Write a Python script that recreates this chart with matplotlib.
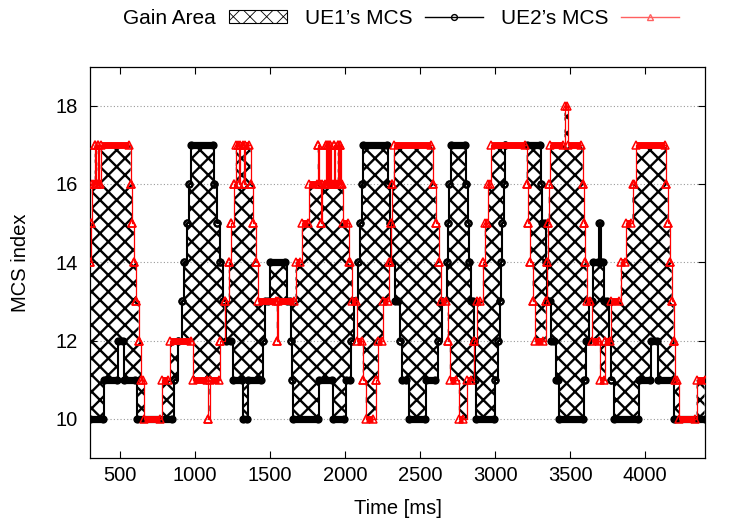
import numpy as np
import matplotlib
matplotlib.use("Agg")
import matplotlib.pyplot as plt
from matplotlib.patches import Patch
from matplotlib.lines import Line2D

# ---------------- data (runs of consecutive samples at one MCS level) ----------------
# UE1's MCS
ue1_start = [300, 395, 485, 527, 612, 860, 886, 913, 930, 946, 962, 975, 1128, 1146, 1166, 1186,
             1208, 1250, 1320, 1352, 1452, 1466, 1498, 1610, 1641, 1648, 1656, 1828, 1920, 2004,
             2042, 2062, 2085, 2098, 2112, 2122, 2287, 2296, 2305, 2335, 2365, 2382, 2425, 2540,
             2618, 2648, 2676, 2686, 2695, 2704, 2805, 2816, 2826, 2836, 2860, 2867, 2875, 3000,
             3020, 3030, 3040, 3048, 3058, 3066, 3215, 3304, 3310, 3337, 3344, 3375, 3402, 3428,
             3592, 3605, 3625, 3652, 3692, 3705, 3725, 3758, 3775, 3790, 3960, 4038, 4088, 4192]
ue1_end = [385, 478, 520, 600, 850, 860, 886, 913, 930, 946, 962, 1120, 1128, 1146, 1166, 1186,
           1240, 1312, 1345, 1442, 1452, 1488, 1602, 1632, 1641, 1648, 1818, 1912, 1996, 2034,
           2042, 2062, 2085, 2098, 2112, 2280, 2287, 2296, 2305, 2352, 2365, 2405, 2532, 2602,
           2618, 2648, 2676, 2686, 2695, 2798, 2805, 2816, 2826, 2852, 2860, 2867, 2990, 3000,
           3020, 3030, 3040, 3048, 3058, 3066, 3297, 3304, 3330, 3337, 3368, 3395, 3420, 3585,
           3598, 3618, 3645, 3685, 3698, 3718, 3745, 3758, 3775, 3950, 4030, 4080, 4183, 4395]
ue1_mcs = [10, 11, 12, 11, 10, 11, 12, 13, 14, 15, 16, 17, 16, 15, 14, 13,
           12, 11, 10, 11, 12, 13, 14, 13, 12, 11, 10, 11, 10, 11,
           12, 13, 14, 15, 16, 17, 16, 15, 14, 13, 12, 11, 10, 11,
           12, 13, 14, 15, 16, 17, 16, 15, 14, 13, 12, 11, 10, 11,
           12, 13, 14, 15, 16, 17, 17, 16, 15, 14, 13, 12, 11, 10,
           11, 12, 13, 14, 15, 14, 13, 12, 11, 10, 11, 12, 11, 10]

# UE2's MCS
ue2_start = [300, 306, 313, 332, 339, 352, 359, 372, 571, 580, 593, 608, 624, 641, 662, 780,
             835, 986, 1090, 1097, 1168, 1197, 1225, 1241, 1262, 1272, 1292, 1299, 1325, 1332,
             1370, 1389, 1405, 1419, 1545, 1552, 1670, 1712, 1762, 1818, 1825, 1840, 1847, 1873,
             1880, 1887, 1894, 1902, 1909, 1929, 1936, 1951, 1958, 1969, 1976, 1985, 2028, 2045,
             2082, 2118, 2138, 2205, 2218, 2255, 2292, 2305, 2314, 2325, 2584, 2604, 2625, 2638,
             2684, 2698, 2758, 2812, 2858, 2880, 2918, 2931, 2955, 2975, 3210, 3221, 3235, 3250,
             3268, 3337, 3344, 3350, 3357, 3368, 3462, 3486, 3583, 3594, 3600, 3610, 3645, 3698,
             3732, 3775, 3837, 3872, 3915, 3940, 4138, 4149, 4163, 4176, 4189, 4196, 4225, 4342]
ue2_end = [300, 306, 325, 332, 345, 352, 365, 562, 571, 580, 593, 608, 624, 655, 766, 820,
           976, 1083, 1090, 1160, 1168, 1197, 1225, 1241, 1262, 1285, 1292, 1318, 1325, 1360,
           1370, 1389, 1405, 1538, 1545, 1660, 1700, 1752, 1811, 1818, 1833, 1840, 1866, 1873,
           1880, 1887, 1895, 1902, 1922, 1929, 1944, 1951, 1962, 1969, 1978, 2018, 2035, 2072,
           2110, 2118, 2185, 2205, 2245, 2285, 2298, 2305, 2314, 2575, 2584, 2604, 2625, 2672,
           2684, 2740, 2788, 2840, 2858, 2900, 2918, 2945, 2965, 3200, 3210, 3221, 3235, 3250,
           3320, 3337, 3344, 3350, 3357, 3455, 3478, 3572, 3583, 3594, 3600, 3635, 3690, 3725,
           3765, 3825, 3863, 3903, 3925, 4130, 4138, 4149, 4163, 4176, 4189, 4212, 4332, 4395]
ue2_mcs = [14, 15, 16, 17, 16, 17, 16, 17, 16, 15, 14, 13, 12, 11, 10, 11,
           12, 11, 10, 11, 12, 13, 14, 15, 16, 17, 16, 17, 16, 17,
           16, 15, 14, 13, 12, 13, 14, 15, 16, 17, 16, 15, 16, 17,
           16, 17, 16, 17, 16, 17, 16, 17, 16, 17, 16, 15, 14, 13,
           12, 11, 10, 11, 12, 13, 14, 15, 16, 17, 16, 15, 14, 13,
           12, 11, 10, 11, 12, 13, 14, 15, 16, 17, 16, 15, 14, 13,
           12, 13, 14, 15, 16, 17, 18, 17, 16, 15, 14, 13, 12, 11,
           12, 13, 14, 15, 16, 17, 16, 15, 14, 13, 12, 11, 10, 11]

x_ticks = [500, 1000, 1500, 2000, 2500, 3000, 3500, 4000]
y_ticks = [10, 12, 14, 16, 18]
legend_labels = ["Gain Area", "UE1\u2019s MCS", "UE2\u2019s MCS"]

# ---------------- style ----------------
plt.rcParams["font.family"] = ["Liberation Sans", "DejaVu Sans"]
plt.rcParams["hatch.linewidth"] = 1.7
plt.rcParams["hatch.color"] = "black"
FS = 14.5


def polyline(start, end, mcs):
    s = np.asarray(start, float)
    e = np.asarray(end, float)
    v = np.asarray(mcs, float)
    xs = np.column_stack([s, e]).ravel()
    ys = np.column_stack([v, v]).ravel()
    return xs, ys


def step_value(start, mcs, t):
    idx = np.searchsorted(np.asarray(start, float), t, side="right") - 1
    return np.asarray(mcs, float)[np.clip(idx, 0, None)]


x1, y1 = polyline(ue1_start, ue1_end, ue1_mcs)
x2, y2 = polyline(ue2_start, ue2_end, ue2_mcs)

grid = np.unique(np.concatenate([x1, x2]))
g1 = step_value(ue1_start, ue1_mcs, grid)
g2 = step_value(ue2_start, ue2_mcs, grid)

fig = plt.figure(figsize=(7.5, 5.25), dpi=100)
ax = fig.add_axes([0.1199, 0.1276, 0.8205, 0.7457])

# gain area
ax.fill_between(grid, g1, g2, step="post", facecolor="none", edgecolor="black",
                hatch="xx", linewidth=0, zorder=1)


def draw_series(start, end, mcs, xs, ys, color, marker, lw, bar_lw, ms, mew, cap, z):
    s = np.asarray(start, float)
    e = np.asarray(end, float)
    v = np.asarray(mcs, float)
    ax.plot(xs, ys, color=color, lw=lw, drawstyle="steps-post", zorder=z)
    long_run = (e - s) > 8
    bars = ax.hlines(v[long_run], s[long_run], e[long_run], colors=color,
                     linewidth=bar_lw, zorder=z)
    bars.set_capstyle(cap)
    ax.plot(xs, ys, linestyle="none", marker=marker, ms=ms, mfc="none",
            mec=color, mew=mew, zorder=z)


draw_series(ue1_start, ue1_end, ue1_mcs, x1, y1, "black", "o", 1.5, 5.2, 4.4, 1.5, "round", 2)
draw_series(ue2_start, ue2_end, ue2_mcs, x2, y2, "#ff0000", "^", 0.9, 5.0, 6.0, 1.1, "butt", 3)

ax.set_xlim(300, 4400)
ax.set_ylim(9, 19)
ax.set_xticks(x_ticks)
ax.set_yticks(y_ticks)
ax.tick_params(direction="in", top=True, right=True, length=5, width=0.8, labelsize=FS)
ax.tick_params(axis="x", pad=6)
ax.tick_params(axis="y", pad=9)
ax.yaxis.grid(True, color="#999999", linestyle=(0, (1, 2)), linewidth=0.8)
ax.set_axisbelow(True)
for sp in ax.spines.values():
    sp.set_linewidth(0.9)

ax.set_xlabel("Time [ms]", fontsize=FS, labelpad=10)
ax.set_ylabel("MCS index", fontsize=FS, labelpad=18)

with plt.rc_context({"hatch.linewidth": 0.6}):
    handles = [
        Patch(facecolor="white", edgecolor="black", hatch="xx", linewidth=0.8, label=legend_labels[0]),
        Line2D([], [], color="black", lw=1.0, marker="o", ms=4.2, mfc="none", mew=1.0, label=legend_labels[1]),
        Line2D([], [], color="#ff6060", lw=1.0, marker="^", ms=5, mfc="none", mew=1.0, label=legend_labels[2]),
    ]
    fig.legend(handles=handles, loc="center", bbox_to_anchor=(0.535, 0.965), ncol=3,
               frameon=False, markerfirst=False, handlelength=2.8, handleheight=0.6,
               handletextpad=0.6, columnspacing=0.85, fontsize=15)

fig.savefig("out.png", dpi=100)
